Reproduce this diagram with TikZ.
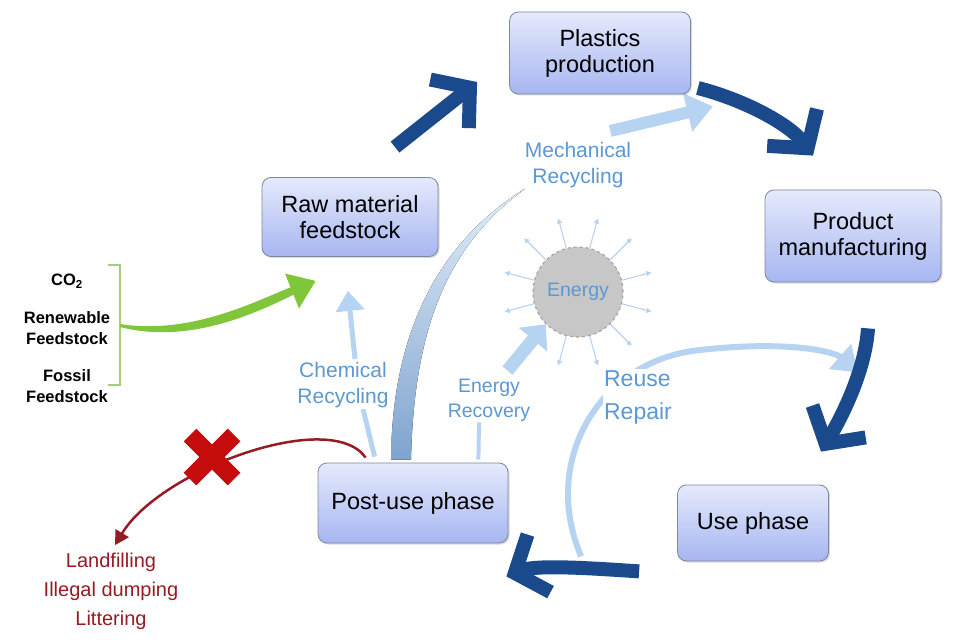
\documentclass[tikz,border=0pt]{standalone}
\usepackage{fontspec}
\setmainfont{Liberation Sans}
\usetikzlibrary{arrows.meta,calc,positioning,shadows,backgrounds}

\definecolor{cycleblue}{RGB}{26,74,140}
\definecolor{boxtop}{RGB}{230,234,252}
\definecolor{boxbottom}{RGB}{166,182,241}
\definecolor{boxline}{RGB}{125,135,160}
\definecolor{recblue}{RGB}{182,212,242}
\definecolor{reclabel}{RGB}{92,152,212}
\definecolor{leafgreen}{RGB}{128,198,58}
\definecolor{bracegreen}{RGB}{165,205,115}
\definecolor{crossred}{RGB}{196,12,12}
\definecolor{lossred}{RGB}{150,28,36}

\begin{document}
\begin{tikzpicture}[
  x=1pt, y=-1pt,
  stage/.style={draw=boxline, line width=0.8pt, rounded corners=9pt, top color=boxtop, bottom color=boxbottom,
    align=center, font=\fontsize{23.5}{26}\selectfont,
    drop shadow={opacity=0.3, shadow xshift=1.5pt, shadow yshift=-1.5pt}},
  cyclearrow/.style={draw=cycleblue, line width=14pt, -{Straight Barb[length=26pt,width=62pt]}},
  recline/.style={draw=recblue, line width=5pt},
  rectip/.style={-{Triangle[length=20pt,width=28pt]}},
  reclabelnode/.style={text=reclabel, align=center, fill=white, inner sep=1pt, font=\fontsize{21}{26}\selectfont},
  feedlabel/.style={align=center, font=\bfseries\fontsize{16.5}{21}\selectfont},
  rayarrow/.style={draw=recblue, line width=1.1pt, -{Triangle[length=5pt,width=5pt]}}
]
  \useasboundingbox (0,0) rectangle (971,644);

  % the five stages
  \node[stage, minimum width=181, minimum height=82] (plastics) at (600,53) {Plastics\\production};
  \node[stage, minimum width=176, minimum height=92] (product) at (853,236) {Product\\manufacturing};
  \node[stage, minimum width=151, minimum height=76] (use) at (753,523) {Use phase};
  \node[stage, minimum width=190, minimum height=80] (post) at (413,503) {Post-use phase};
  \node[stage, minimum width=176, minimum height=79] (raw) at (350,217) {Raw material\\feedstock};

  % energy
  \node[circle, minimum size=90, fill=black!22, draw=black!35, dashed, line width=1.2pt,
    text=reclabel, font=\fontsize{19.5}{22}\selectfont] (energy) at (578,292) {Energy};
  \foreach \a in {15,45,...,345}
    \draw[rayarrow] (energy.\a) -- ($(energy.center)+(\a:76pt)$);

  % recycling labels
  \node[reclabelnode] (mech) at (578,165) {Mechanical\\Recycling};
  \node[reclabelnode] (chem) at (343,385) {Chemical\\Recycling};
  \node[reclabelnode, font=\fontsize{19.5}{25}\selectfont] (erec) at (489,400) {Energy\\Recovery};
  \node[reclabelnode, align=left, font=\fontsize{23}{33}\selectfont] (reuse) at (638,397) {Reuse\\Repair};

  % feedstock
  \node[feedlabel] (co2) at (67,281) {CO\textsubscript{2}};
  \node[feedlabel] (renew) at (67,328) {Renewable\\Feedstock};
  \node[feedlabel] (fossil) at (67,386) {Fossil\\Feedstock};
  \coordinate (brace) at (120,325);
  \coordinate (feedtip) at ($(raw.south west)+(54,24)$);
  \draw[bracegreen, line width=1.5pt] (108,265) -- (120,265) -- (120,385) -- (108,385);

  % leakage
  \node[text=lossred, align=center, font=\fontsize{20}{29}\selectfont] (loss) at (111,591) {Landfilling\\Illegal dumping\\Littering};
  \coordinate (stop) at (212,457);

  \begin{pgfonlayer}{background}
    % mechanical recycling
    \fill[top color=recblue!40, bottom color=cycleblue!35!recblue]
      ($(post.north)+(-22,-3)$) .. controls (392,330) and (440,240) .. ($(mech.south west)+(4,-2)$)
      .. controls (446,245) and (414,330) .. ($(post.north)+(-2,-3)$) -- cycle;
    \draw[recline, line width=12pt, -{Triangle[length=26pt,width=38pt]}]
      ($(mech.north east)+(-22,-10)$) -- ($(plastics.south east)+(22,12)$);
    % chemical recycling
    \draw[recline] ($(post.north west)+(57,-6)$) -- ($(chem.south)+(20,0)$);
    \draw[recline, rectip] ($(chem.north)+(12,-2)$) -- ($(raw.south)+(-2,34)$);
    % energy recovery
    \draw[recline, line width=4pt] ($(post.north east)+(-30,-3)$) -- ($(erec.south)+(-10,0)$);
    \draw[recline, line width=13pt, -{Triangle[length=20pt,width=36pt]}]
      ($(erec.north east)+(-24,-7)$) -- (energy.225);
    % reuse / repair
    \draw[recline, line width=6pt, -{Triangle[length=24pt,width=32pt]}]
      ($(use.south west)+(-96,-5)$) .. controls (540,460) and (600,360) .. (700,350)
      .. controls (790,340) and (835,352) .. ($(product.south)+(5,90)$);
  \end{pgfonlayer}

  % main cycle
  \draw[cyclearrow] ($(raw.north)+(45,-30)$) -- ($(plastics.west)+(-32,29)$);
  \draw[cyclearrow] ($(plastics.east)+(7,35)$) .. controls +(47,12) and +(-23,-31) .. ($(product.north)+(-40,-34)$);
  \draw[cyclearrow] ($(product.south)+(15,46)$) .. controls +(-3,45) and +(18,-30) .. ($(use.north)+(68,-33)$);
  \draw[cyclearrow] ($(use.south west)+(-38,10)$) .. controls +(-45,-3) and +(30,-12) .. ($(post.south east)+(-2,33)$);

  % feedstock input, tapered
  \fill[leafgreen] ($(brace)+(0,2)$) .. controls (190,345) and (258,312) .. (293.5,294.7)
    -- (299,308.5) -- (feedtip) -- (285,273.5) -- (290.5,287.3)
    .. controls (254,302) and (190,335) .. ($(brace)+(0,-1)$) -- cycle;

  % leakage path
  \draw[lossred, line width=2.5pt, -{Triangle[length=14pt,width=15pt]}]
    ($(post.north west)+(48,-5)$) .. controls +(-35,-50) and +(45,-75) .. ($(loss.north)+(4,-4)$);
  \draw[crossred, line width=18pt]
    ($(stop)+(-22,-22)$) -- ($(stop)+(22,22)$)
    ($(stop)+(22,-22)$) -- ($(stop)+(-22,22)$);
\end{tikzpicture}
\end{document}
